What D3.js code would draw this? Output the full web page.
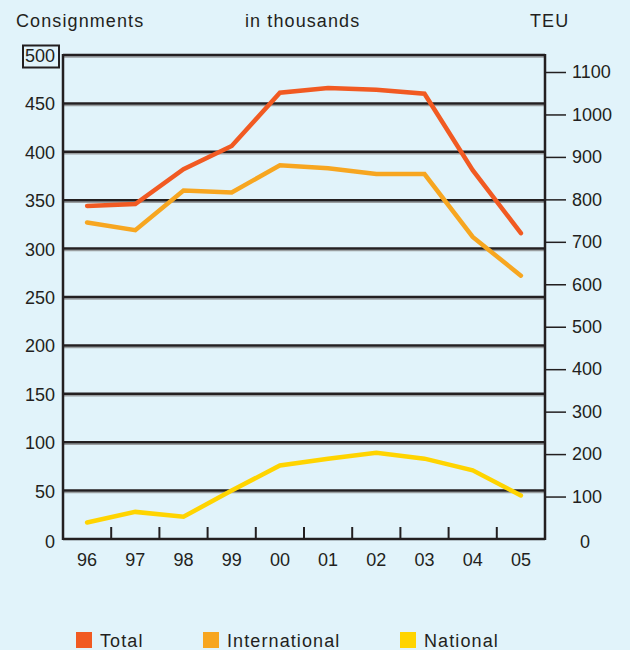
<!DOCTYPE html>
<html><head><meta charset="utf-8">
<script src="https://cdn.jsdelivr.net/npm/d3@7"></script>
<style>
html,body{margin:0;padding:0;background:#e1f3fa;}
svg{display:block;}
text{font-family:"Liberation Sans",Arial,sans-serif;fill:#231f20;}
</style></head>
<body>
<svg id="c" width="630" height="650"></svg>
<script>
const years = ["96","97","98","99","00","01","02","03","04","05"];
const total = [344,346,382,406,461,466,464,460,381,316];
const international = [327,319,360,358,386,383,377,377,312,272];
const national = [17,28,23,50,76,83,89,83,71,45];
const leftTicks = [0,50,100,150,200,250,300,350,400,450,500];
const rightTicks = [0,100,200,300,400,500,600,700,800,900,1000,1100];
const seriesNames = ["Total","International","National"];
const seriesColors = ["#f15a22","#f7a620","#ffd400"];

const svg = d3.select("#c");
const L=63, R=545, T=55, B=539;
const x = d3.scaleBand().domain(years).range([L,R]);
const y = d3.scaleLinear().domain([0,500]).range([B,T]);
const yR = d3.scaleLinear().domain([0,1100]).range([B,72]);
const FS = "18px";

svg.append("rect").attr("width",630).attr("height",650).attr("fill","#e1f3fa");

// gridlines
const gl = svg.append("g");
leftTicks.filter(d=>d>0).forEach(d=>{
  gl.append("line").attr("x1",L).attr("x2",R).attr("y1",y(d)+2).attr("y2",y(d)+2)
    .attr("stroke","#9a9ea0").attr("stroke-width",1.5);
  gl.append("line").attr("x1",L).attr("x2",R).attr("y1",y(d)).attr("y2",y(d))
    .attr("stroke","#231f20").attr("stroke-width",2.5);
});

// frame
svg.append("line").attr("x1",L).attr("x2",L).attr("y1",T-1).attr("y2",B+1).attr("stroke","#231f20").attr("stroke-width",2.5);
svg.append("line").attr("x1",R).attr("x2",R).attr("y1",T-1).attr("y2",B+1).attr("stroke","#231f20").attr("stroke-width",2.5);
svg.append("line").attr("x1",L).attr("x2",R).attr("y1",B).attr("y2",B).attr("stroke","#231f20").attr("stroke-width",2.5);

// x ticks between bands
years.slice(1).forEach(d=>{
  svg.append("line").attr("x1",x(d)).attr("x2",x(d)).attr("y1",B).attr("y2",B-12)
    .attr("stroke","#231f20").attr("stroke-width",2);
});

// left axis
const ax = d3.axisLeft(y).tickValues(leftTicks).tickSize(0).tickFormat(d3.format("d"));
const gL = svg.append("g").attr("transform",`translate(${L},0)`).call(ax);
gL.select(".domain").remove();
gL.selectAll("text").style("font-size",FS).attr("fill","#231f20")
  .attr("dy","0.36em").attr("x",-8);
gL.selectAll(".tick").filter(d=>d===0).select("text").attr("dy","0.45em");
// box around 500
const t500 = gL.selectAll(".tick").filter(d=>d===500);
t500.insert("rect","text").attr("x",-40).attr("y",-10).attr("width",36).attr("height",22)
  .attr("fill","none").attr("stroke","#231f20").attr("stroke-width",2);

// right axis
const ar = d3.axisRight(yR).tickValues(rightTicks).tickSize(21).tickPadding(6).tickFormat(d3.format("d"));
const gR = svg.append("g").attr("transform",`translate(${R},0)`).call(ar);
gR.select(".domain").remove();
gR.selectAll(".tick line").attr("stroke","#231f20").attr("stroke-width",1.5);
gR.selectAll(".tick").filter(d=>d===0).select("line").remove();
gR.selectAll(".tick").filter(d=>d===0).select("text").attr("x",35).attr("dy","0.45em");
gR.selectAll("text").style("font-size",FS).attr("fill","#231f20");

// x axis labels
const axB = d3.axisBottom(x).tickSize(0).tickPadding(14);
const gB = svg.append("g").attr("transform",`translate(0,${B})`).call(axB);
gB.select(".domain").remove();
gB.selectAll("text").style("font-size",FS).attr("fill","#231f20");

// lines
const line = d3.line().x((d,i)=>x(years[i])+x.bandwidth()/2).y(d=>y(d));
[national, international, total].forEach((s,k)=>{
  const c = [seriesColors[2],seriesColors[1],seriesColors[0]][k];
  svg.append("path").attr("d",line(s)).attr("fill","none").attr("stroke",c)
    .attr("stroke-width",4.5).attr("stroke-linejoin","miter").attr("stroke-linecap","round");
});

// titles
const title = (txt,xx,anchor)=>svg.append("text").attr("x",xx).attr("y",27).text(txt)
  .style("font-size",FS).style("letter-spacing","1.1px").attr("text-anchor",anchor||"start");
title("Consignments",16);
title("in thousands",245);
title("TEU",530);

// legend
const lx = [76,203,400];
seriesNames.forEach((n,i)=>{
  svg.append("rect").attr("x",lx[i]).attr("y",632).attr("width",16).attr("height",16).attr("fill",seriesColors[i]);
  svg.append("text").attr("x",lx[i]+24).attr("y",647).text(n)
    .style("font-size",FS).style("letter-spacing","1.1px");
});
</script>
</body></html>
